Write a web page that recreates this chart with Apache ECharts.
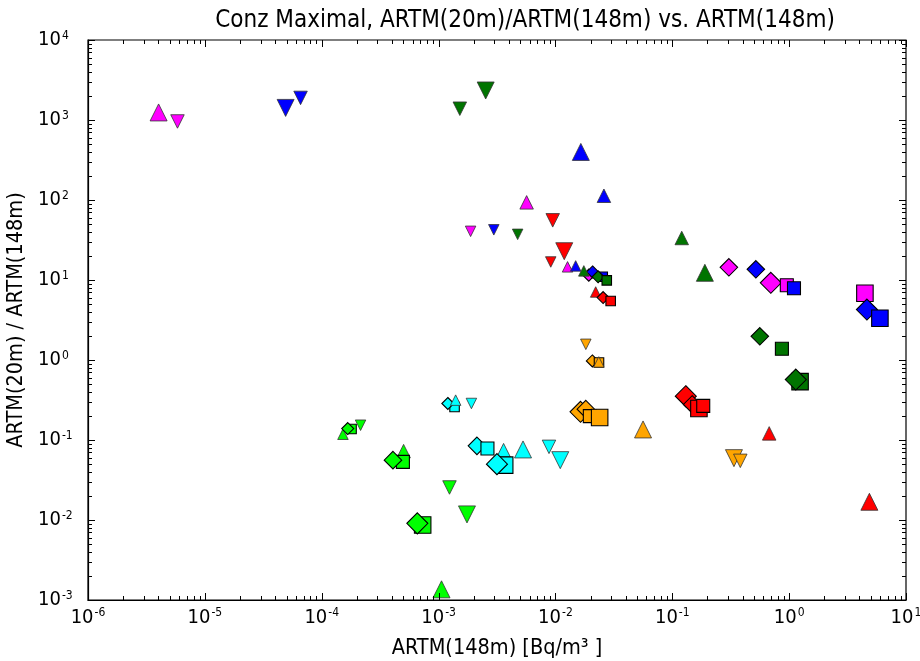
<!DOCTYPE html>
<html><head><meta charset="utf-8">
<script src="https://cdn.jsdelivr.net/npm/echarts@6/dist/echarts.min.js"></script>
<style>html,body{margin:0;padding:0;background:#fff}#c{width:920px;height:661px}</style>
</head><body><div id="c"></div>
<script>
// ---- data: [ARTM(148m), ratio, marker kind, size class] ----
const magentaPts = [
  [4.02e-6, 1243, 'up', 3], [5.83e-6, 959, 'down', 2], [5.67e-3, 93.4, 'up', 2],
  [1.88e-3, 40.6, 'down', 1], [1.93e-2, 11.5, 'diamond', 1], [1.27e-2, 14.6, 'up', 1],
  [0.305, 14.4, 'diamond', 2], [0.697, 9.23, 'diamond', 3], [0.955, 8.6, 'square', 2],
  [4.45, 6.82, 'square', 3]
];
const bluePts = [
  [4.91e-5, 1416, 'down', 3], [6.59e-5, 1888, 'down', 2], [1.65e-2, 399, 'up', 3],
  [2.60e-2, 113, 'up', 2], [2.97e-3, 42.4, 'down', 1], [1.49e-2, 15.0, 'up', 1],
  [2.08e-2, 12.6, 'diamond', 1], [2.54e-2, 10.96, 'square', 1], [0.519, 13.6, 'diamond', 2],
  [1.10, 7.87, 'square', 2], [4.63, 4.27, 'diamond', 3], [5.98, 3.33, 'square', 3]
];
const greenPts = [
  [1.52e-3, 1384, 'down', 2], [2.53e-3, 2339, 'down', 3], [4.75e-3, 37.2, 'down', 1],
  [0.1205, 33.5, 'up', 2], [0.190, 12.3, 'up', 3], [1.75e-2, 13.0, 'up', 1],
  [2.32e-2, 10.96, 'diamond', 1], [2.75e-2, 9.9, 'square', 1], [0.561, 1.98, 'diamond', 2],
  [0.867, 1.38, 'square', 2], [1.24, 0.536, 'square', 3], [1.14, 0.570, 'diamond', 3]
];
const redPts = [
  [9.48e-3, 55.7, 'down', 2], [1.19e-2, 22.9, 'down', 3], [9.12e-3, 16.8, 'down', 1],
  [2.21e-2, 7.08, 'up', 1], [2.56e-2, 6.03, 'diamond', 1], [2.97e-2, 5.47, 'square', 1],
  [0.1305, 0.353, 'diamond', 3], [0.148, 0.278, 'diamond', 2], [0.169, 0.248, 'square', 3],
  [0.184, 0.267, 'square', 2], [0.675, 0.121, 'up', 2], [4.86, 0.0169, 'up', 3]
];
const orangePts = [
  [1.82e-2, 1.57, 'down', 1], [2.07e-2, 0.974, 'diamond', 1], [2.36e-2, 0.930, 'square', 1],
  [2.35e-2, 0.946, 'up', 1], [1.64e-2, 0.225, 'diamond', 3], [1.82e-2, 0.243, 'diamond', 2],
  [1.97e-2, 0.199, 'square', 2], [2.39e-2, 0.191, 'square', 3], [5.62e-2, 0.1355, 'up', 3],
  [0.337, 0.0593, 'down', 3], [0.382, 0.0549, 'down', 2]
];
const cyanPts = [
  [1.37e-3, 0.259, 'square', 1], [1.20e-3, 0.286, 'diamond', 1], [1.40e-3, 0.315, 'up', 1],
  [1.91e-3, 0.286, 'down', 1], [2.13e-3, 0.0845, 'diamond', 2], [2.62e-3, 0.0783, 'square', 2],
  [3.60e-3, 0.0746, 'up', 2], [5.28e-3, 0.0762, 'up', 3], [3.68e-3, 0.0485, 'square', 3],
  [3.16e-3, 0.0499, 'diamond', 3], [8.81e-3, 0.0821, 'down', 2], [1.10e-2, 0.0560, 'down', 3]
];
const limePts = [
  [1.52e-4, 0.118, 'up', 1], [1.80e-4, 0.137, 'square', 1], [1.67e-4, 0.139, 'diamond', 1],
  [2.15e-4, 0.153, 'down', 1], [5.02e-4, 0.0726, 'up', 2], [4.95e-4, 0.0533, 'square', 2],
  [4.07e-4, 0.056, 'diamond', 2], [7.31e-4, 0.00865, 'square', 3], [6.58e-4, 0.00908, 'diamond', 3],
  [1.24e-3, 0.0255, 'down', 2], [1.75e-3, 0.01175, 'down', 3], [1.06e-3, 0.00136, 'up', 3]
];
const groupNames = ['magenta', 'blue', 'darkgreen', 'red', 'orange', 'cyan', 'lime'];
const groupData = [magentaPts, bluePts, greenPts, redPts, orangePts, cyanPts, limePts];
const xExponents = [-6, -5, -4, -3, -2, -1, 0, 1];
const yExponents = [-3, -2, -1, 0, 1, 2, 3, 4];
const titleText = 'Conz Maximal, ARTM(20m)/ARTM(148m) vs. ARTM(148m)';
const xName = 'ARTM(148m) [Bq/m\u00B3 ]';
const yName = 'ARTM(20m) / ARTM(148m)';

// ---- styling ----
const groupColors = {
  magenta: '#ff00ff', blue: '#0000ff', darkgreen: '#007400', red: '#ff0000',
  orange: '#ffa500', cyan: '#00ffff', lime: '#00ff00'
};
const SIZES = { up: [10.5, 13.5, 17], down: [10.5, 13.5, 17], diamond: [12, 17.5, 21], square: [9.5, 13, 16.5] };
const FONT = '"DejaVu Sans Condensed", "DejaVu Sans", sans-serif';

// tick positions (decades + 2..9 minors), real values
function tickList(exps) {
  const out = [];
  for (let i = 0; i < exps.length; i++) {
    out.push([Math.pow(10, exps[i]), 1]);
    if (i < exps.length - 1) for (let m = 2; m <= 9; m++) out.push([m * Math.pow(10, exps[i]), 0]);
  }
  return out;
}
const xTicks = tickList(xExponents), yTicks = tickList(yExponents);
const xMin = Math.pow(10, xExponents[0]), xMax = Math.pow(10, xExponents[xExponents.length - 1]);
const yMin = Math.pow(10, yExponents[0]), yMax = Math.pow(10, yExponents[yExponents.length - 1]);

function toItem(p) {
  const kind = p[2], cls = p[3];
  const tri = (kind === 'up' || kind === 'down');
  return {
    value: [p[0], p[1]],
    symbol: kind === 'square' ? 'rect' : (kind === 'diamond' ? 'diamond' : 'triangle'),
    symbolRotate: kind === 'down' ? 180 : 0,
    symbolSize: SIZES[kind][cls - 1],
    itemStyle: { borderWidth: tri ? 0.8 : 1.1, borderColor: tri ? '#333' : '#000' }
  };
}

const series = groupData.map((arr, i) => ({
  name: groupNames[i], type: 'scatter', xAxisIndex: 0, yAxisIndex: 0,
  data: arr.map(toItem),
  itemStyle: { color: groupColors[groupNames[i]], opacity: 1 },
  emphasis: { disabled: true }, silent: true, animation: false, z: 3
}));

const TICK_MAJ = 7, TICK_MIN = 4;
const tickStyle = { stroke: '#000', lineWidth: 1 };
// x ticks (bottom + top), drawn through the axes' own coordinate mapping
series.push({
  type: 'custom', coordinateSystem: 'cartesian2d', xAxisIndex: 0, yAxisIndex: 0,
  silent: true, animation: false, z: 4, clip: false,
  data: xTicks.map(t => [t[0], yMin, t[1]]),
  renderItem: function (params, api) {
    const v = api.value(0), len = api.value(2) ? TICK_MAJ : TICK_MIN;
    const b = api.coord([v, yMin]), t = api.coord([v, yMax]);
    const x = Math.round(b[0]) + 0.5;
    return { type: 'group', children: [
      { type: 'line', shape: { x1: x, y1: b[1], x2: x, y2: b[1] - len }, style: tickStyle },
      { type: 'line', shape: { x1: x, y1: t[1], x2: x, y2: t[1] + len }, style: tickStyle }
    ] };
  }
});
// y ticks (left + right)
series.push({
  type: 'custom', coordinateSystem: 'cartesian2d', xAxisIndex: 0, yAxisIndex: 0,
  silent: true, animation: false, z: 4, clip: false,
  data: yTicks.map(t => [xMin, t[0], t[1]]),
  renderItem: function (params, api) {
    const v = api.value(1), len = api.value(2) ? TICK_MAJ : TICK_MIN;
    const l = api.coord([xMin, v]), r = api.coord([xMax, v]);
    const y = Math.round(l[1]) + 0.5;
    return { type: 'group', children: [
      { type: 'line', shape: { x1: l[0], y1: y, x2: l[0] + len, y2: y }, style: tickStyle },
      { type: 'line', shape: { x1: r[0], y1: y, x2: r[0] - len, y2: y }, style: tickStyle }
    ] };
  }
});

const supFmt = v => '{b|10}{s|' + Math.round(Math.log10(v)) + '}';
const labelRich = {
  b: { fontSize: 20, fontFamily: FONT, color: '#000' },
  s: { fontSize: 12, fontFamily: FONT, color: '#000', verticalAlign: 'top', padding: [0, 0, 9, 1] }
};
const lineSt = { color: '#000', width: 1.2 };

const chart = echarts.init(document.getElementById('c'), null, { renderer: 'canvas' });
chart.setOption({
  animation: false,
  backgroundColor: '#fff',
  title: {
    text: titleText, left: 520, top: 4, textAlign: 'center',
    textStyle: { fontFamily: FONT, fontSize: 24, fontWeight: 'normal', color: '#000' }
  },
  grid: { left: 88, right: 14, top: 40, bottom: 61, containLabel: false, outerBoundsMode: 'none',
          show: true, borderColor: '#000', borderWidth: 1.2, backgroundColor: 'transparent' },
  xAxis: [{
    type: 'log', logBase: 10, min: xMin, max: xMax, splitNumber: 7, position: 'bottom',
    axisLine: { show: true, onZero: false, lineStyle: lineSt },
    axisTick: { show: false }, minorTick: { show: false }, splitLine: { show: false },
    axisLabel: { formatter: supFmt, rich: labelRich, margin: 7, showMinLabel: true, showMaxLabel: true },
    name: xName, nameLocation: 'middle', nameGap: 37,
    nameTextStyle: { fontFamily: FONT, fontSize: 21.5, color: '#000' }
  }],
  yAxis: [{
    type: 'log', logBase: 10, min: yMin, max: yMax, splitNumber: 7, position: 'left',
    axisLine: { show: true, onZero: false, lineStyle: lineSt },
    axisTick: { show: false }, minorTick: { show: false }, splitLine: { show: false },
    axisLabel: { formatter: supFmt, rich: labelRich, margin: 50, align: 'left', showMinLabel: true, showMaxLabel: true },
    name: yName, nameLocation: 'middle', nameGap: 60, nameRotate: 90,
    nameTextStyle: { fontFamily: FONT, fontSize: 21.5, color: '#000' }
  }],
  series: series
});
</script>
</body></html>
